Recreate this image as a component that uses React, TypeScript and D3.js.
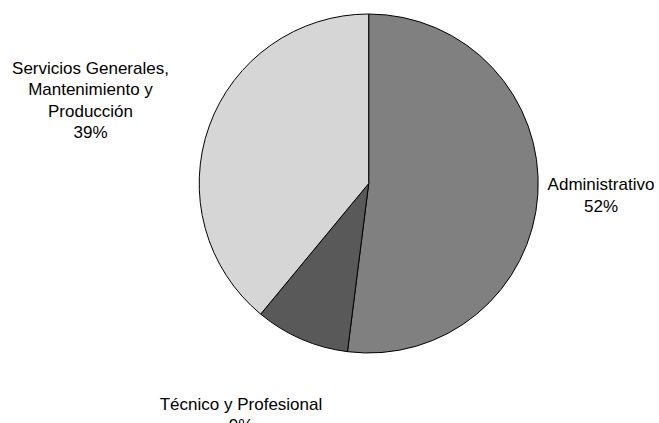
import React from "react";
import * as d3 from "d3";

const categories = ["Administrativo", "Técnico y Profesional", "Servicios Generales, Mantenimiento y Producción"];
const values = [52, 9, 39];
const percentLabels = ["52%", "9%", "39%"];
const labelLines = [
  ["Administrativo", "52%"],
  ["Técnico y Profesional", "9%"],
  ["Servicios Generales,", "Mantenimiento y", "Producción", "39%"],
];
const colors = ["#808080", "#595959", "#d6d6d6"];

const W = 659;
const H = 423;
const cx = 368.7;
const cy = 183.5;
const R = 169.5;

// label anchor positions (center x, first baseline y, line spacing)
const labelPos = [
  { x: 601, y: 189.5, dy: 22.5 },
  { x: 241, y: 409.5, dy: 21.5 },
  { x: 90.5, y: 74, dy: 21.4 },
];

export default function App() {
  const data = categories.map((c, i) => ({ c, v: values[i], p: percentLabels[i] }));
  const pie = d3
    .pie<any>()
    .sort(null)
    .value((d: any) => d.v)
    .startAngle(0)
    .endAngle(2 * Math.PI);
  const arcs = pie(data);
  const arc = d3.arc<any>().innerRadius(0).outerRadius(R);

  return (
    <svg
      width={W}
      height={H}
      style={{ position: "fixed", left: 0, top: 0, background: "#fff" }}
    >
      <rect x={0} y={0} width={W} height={H} fill="#fff" />
      <g transform={`translate(${cx},${cy})`}>
        {arcs.map((a, i) => (
          <path
            key={i}
            d={arc(a) as string}
            fill={colors[i]}
            stroke="#000"
            strokeWidth={1}
          />
        ))}
      </g>
      {labelLines.map((lines, i) => (
        <text
          key={i}
          textAnchor="middle"
          fontFamily="'Liberation Sans', Arial, sans-serif"
          fontSize={17}
          fill="#000"
        >
          {lines.map((l, j) => (
            <tspan key={j} x={labelPos[i].x} y={labelPos[i].y + j * labelPos[i].dy}>
              {l}
            </tspan>
          ))}
        </text>
      ))}
    </svg>
  );
}
